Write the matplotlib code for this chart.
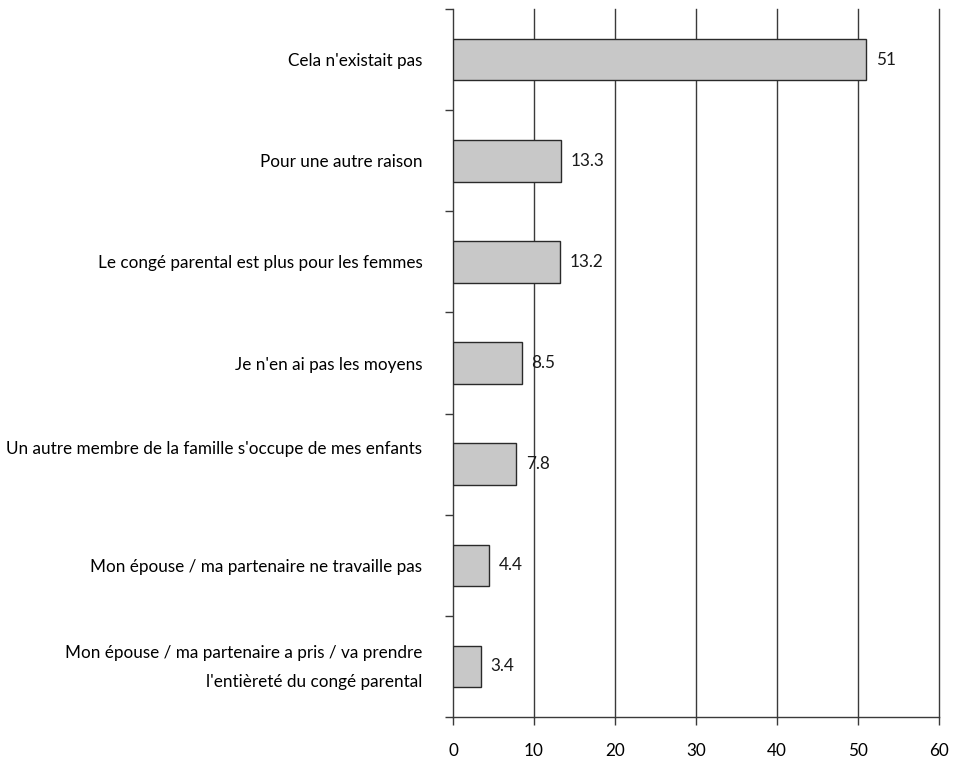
"""Horizontal bar chart: reasons for not taking parental leave (%)."""

import matplotlib
matplotlib.use("Agg")
import matplotlib.pyplot as plt
from matplotlib.ticker import FixedLocator
from matplotlib.transforms import ScaledTranslation

# ---------------------------------------------------------------------------
# Data (top to bottom)
# ---------------------------------------------------------------------------
reasons = [
    "Cela n'existait pas",
    "Pour une autre raison",
    "Le congé parental est plus pour les femmes",
    "Je n'en ai pas les moyens",
    "Un autre membre de la famille s'occupe de mes enfants",
    "Mon épouse / ma partenaire ne travaille pas",
    "Mon épouse / ma partenaire a pris / va prendre\nl'entièreté du congé parental",
]
shares = [51, 13.3, 13.2, 8.5, 7.8, 4.4, 3.4]
value_labels = ["51", "13.3", "13.2", "8.5", "7.8", "4.4", "3.4"]
x_ticks = [0, 10, 20, 30, 40, 50, 60]

plt.rcParams["font.family"] = ["Lato", "DejaVu Sans"]
line_col = "#3a3a3a"
fs = 12.3

fig = plt.figure(figsize=(9.54, 7.6), dpi=100)
ax = fig.add_axes([0.4748, 0.0566, 0.5095, 0.9314])

n = len(reasons)
ypos = list(range(n))
ax.barh(ypos, shares, height=0.41, color="#c8c8c8",
        edgecolor="#2a2a2a", linewidth=1.0, zorder=3)

for y, v, lab in zip(ypos, shares, value_labels):
    ax.text(v + 1.2, y, lab, ha="left", va="center", fontsize=fs,
            color="#1a1a1a", zorder=4)

ax.set_xlim(0, 60)
ax.set_ylim(n - 0.5, -0.5)

# vertical grid
for x in x_ticks[1:]:
    ax.axvline(x, color=line_col, linewidth=1.0, zorder=1, clip_on=False)

ax.set_xticks(x_ticks)
ax.set_xticklabels([str(t) for t in x_ticks], fontsize=fs)
ax.tick_params(axis="x", direction="out", length=6, width=1.0,
               color=line_col, pad=13)

ax.set_yticks(ypos)
ax.set_yticklabels(reasons, fontsize=fs, linespacing=2.0)
ax.tick_params(axis="y", which="major", length=0, pad=22)
ax.yaxis.set_minor_locator(FixedLocator([i - 0.5 for i in range(n + 1)]))
ax.tick_params(axis="y", which="minor", direction="out", length=6,
               width=1.0, color=line_col)

# nudge some category labels upward (pixels)
nudge = {4: 17, 6: 7}
for i, tick in enumerate(ax.yaxis.get_major_ticks()):
    if i in nudge:
        lbl = tick.label1
        lbl.set_transform(lbl.get_transform() +
                          ScaledTranslation(0, nudge[i] / 100, fig.dpi_scale_trans))

for side in ("top", "right"):
    ax.spines[side].set_visible(False)
for side in ("left", "bottom"):
    ax.spines[side].set_color(line_col)
    ax.spines[side].set_linewidth(1.0)

fig.savefig("out.png", dpi=100, facecolor="white")
